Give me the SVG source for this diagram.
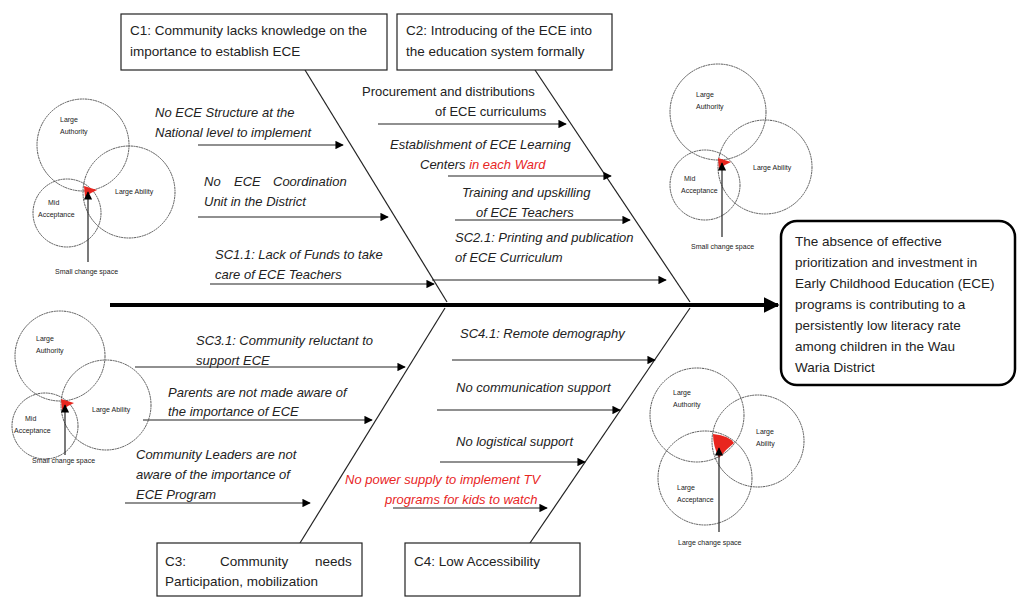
<svg xmlns="http://www.w3.org/2000/svg" width="1024" height="604" viewBox="0 0 1024 604">
<defs>
<marker id="ah" viewBox="0 0 10 10" refX="9" refY="5" markerWidth="7" markerHeight="7" orient="auto"><path d="M0,0 L10,5 L0,10 Z" fill="#000"/></marker>
<marker id="big" viewBox="0 0 10 10" refX="9" refY="5" markerWidth="4" markerHeight="4" orient="auto"><path d="M0,0 L10,5 L0,10 Z" fill="#000"/></marker>
</defs>
<style>
text{font-family:"Liberation Sans",Arial,sans-serif;fill:#222}
.i{font-style:italic;font-size:13px}
.n{font-size:13px}
.b{font-size:13.5px}
.s{font-size:7px}
.r{fill:#e8261f}
.c{fill:none;stroke:#555;stroke-width:1;stroke-dasharray:2 0.6}
.box{fill:#fff;stroke:#222;stroke-width:1.2}
.ln{stroke:#222;stroke-width:1.2;fill:none}
.ar{stroke:#222;stroke-width:1.2;fill:none;marker-end:url(#ah)}
</style>
<rect width="1024" height="604" fill="#fff"/>
<g id="connectors">
<line x1="110" y1="305" x2="778" y2="305" stroke="#000" stroke-width="4" marker-end="url(#big)"/>
<line class="ln" x1="305" y1="70" x2="447" y2="302"/>
<line class="ln" x1="535" y1="70" x2="690" y2="302"/>
<line class="ln" x1="300" y1="543" x2="445" y2="308"/>
<line class="ln" x1="530" y1="543" x2="690" y2="308"/>
<line class="ar" x1="198" y1="145" x2="343" y2="145"/>
<line class="ar" x1="198" y1="217" x2="388" y2="217"/>
<line class="ar" x1="210" y1="284" x2="434" y2="284"/>
<line class="ar" x1="378" y1="124" x2="566" y2="124"/>
<line class="ar" x1="448" y1="176" x2="611" y2="176"/>
<line class="ar" x1="455" y1="220" x2="630" y2="220"/>
<line class="ar" x1="432" y1="280" x2="666" y2="280"/>
<line class="ar" x1="135" y1="367" x2="405" y2="367"/>
<line class="ar" x1="143" y1="420" x2="372" y2="420"/>
<line class="ar" x1="125" y1="503" x2="310" y2="503"/>
<line class="ar" x1="452" y1="360" x2="655" y2="360"/>
<line class="ar" x1="437" y1="410" x2="620" y2="410"/>
<line class="ar" x1="440" y1="462" x2="585" y2="462"/>
<line class="ar" x1="393" y1="508" x2="547" y2="508"/>
</g>
<g id="c1"><rect class="box" x="121" y="14" width="266" height="56"/>
<text class="b" x="130" y="35">C1: Community lacks knowledge on the</text>
<text class="b" x="130" y="56">importance  to establish ECE</text></g>
<g id="c2"><rect class="box" x="397" y="14" width="215" height="56"/>
<text class="b" x="406" y="35">C2: Introducing of the ECE into</text>
<text class="b" x="406" y="56">the education system formally</text></g>
<g id="c3"><rect class="box" x="157" y="543" width="205" height="53"/>
<text class="b" y="566"><tspan x="165">C3:</tspan> <tspan x="220">Community</tspan> <tspan x="315">needs</tspan></text>
<text class="b" x="165" y="586">Participation, mobilization</text></g>
<g id="c4"><rect class="box" x="405" y="543" width="175" height="53"/>
<text class="b" x="414" y="566">C4: Low Accessibility</text></g>
<g id="result"><rect x="781" y="221" width="234" height="164" rx="16" fill="#fff" stroke="#000" stroke-width="2.5"/>
<text class="b" x="795" y="246">The absence of effective</text>
<text class="b" x="795" y="267">prioritization and investment in</text>
<text class="b" x="795" y="288">Early Childhood Education (ECE)</text>
<text class="b" x="795" y="309">programs is contributing to a</text>
<text class="b" x="795" y="330">persistently low literacy rate</text>
<text class="b" x="795" y="351">among children in the Wau</text>
<text class="b" x="795" y="372">Waria District</text></g>
<g id="labels">
<text class="i" x="155" y="117">No ECE Structure at the</text>
<text class="i" x="155" y="137">National level to implement</text>
<text class="i" y="186"><tspan x="204">No</tspan> <tspan x="234">ECE</tspan> <tspan x="273">Coordination</tspan></text>
<text class="i" x="204" y="206">Unit in the District</text>
<text class="i" x="215" y="259">SC1.1: Lack of Funds to take</text>
<text class="i" x="215" y="279">care of ECE Teachers</text>
<text class="n" x="362" y="96">Procurement and distributions</text>
<text class="n" x="435" y="116">of ECE curriculums</text>
<text class="i" x="390" y="149">Establishment of ECE Learning</text>
<text class="i" x="420" y="169">Centers <tspan class="r">in each Ward</tspan></text>
<text class="i" x="462" y="197">Training and upskilling</text>
<text class="i" x="476" y="217">of ECE Teachers</text>
<text class="i" x="455" y="242">SC2.1: Printing and publication</text>
<text class="i" x="455" y="262">of ECE Curriculum</text>
<text class="i" x="196" y="345">SC3.1: Community reluctant to</text>
<text class="i" x="196" y="365">support ECE</text>
<text class="i" x="168" y="397">Parents are not made aware of</text>
<text class="i" x="168" y="416">the importance of ECE</text>
<text class="i" x="136" y="459">Community Leaders are not</text>
<text class="i" x="136" y="479">aware of the importance of</text>
<text class="i" x="136" y="499">ECE Program</text>
<text class="i" x="460" y="338">SC4.1: Remote demography</text>
<text class="i" x="456" y="392">No communication support</text>
<text class="i" x="456" y="446">No logistical support</text>
<text class="i r" x="345" y="484">No power supply to implement TV</text>
<text class="i r" x="385" y="504">programs for kids to watch</text>
</g>
<g id="venn1">
<circle class="c" cx="83" cy="145" r="46"/><circle class="c" cx="129" cy="192" r="46"/><circle class="c" cx="67" cy="213" r="34"/>
<path d="M84,186 L97,190 Q90,193 85,197 Z" class="r"/>
<line class="ar" x1="88" y1="262" x2="88" y2="192"/>
<text class="s" x="60" y="122">Large</text><text class="s" x="60" y="134">Authority</text>
<text class="s" x="115" y="194">Large Ability</text>
<text class="s" x="48" y="205">Mid</text><text class="s" x="38" y="217">Acceptance</text>
<text class="s" x="55" y="274">Small change space</text>
</g>
<g id="venn2">
<circle class="c" cx="60" cy="356" r="45"/><circle class="c" cx="106" cy="405" r="45"/><circle class="c" cx="45" cy="426" r="33"/>
<path d="M61,399 L74,403 Q67,406 62,410 Z" class="r"/>
<line class="ar" x1="65" y1="455" x2="65" y2="405"/>
<text class="s" x="36" y="341">Large</text><text class="s" x="36" y="353">Authority</text>
<text class="s" x="92" y="412">Large Ability</text>
<text class="s" x="25" y="421">Mid</text><text class="s" x="14" y="433">Acceptance</text>
<text class="s" x="32" y="463">Small change space</text>
</g>
<g id="venn3">
<circle class="c" cx="718" cy="112" r="48"/><circle class="c" cx="765" cy="167" r="47"/><circle class="c" cx="705" cy="185" r="35"/>
<path d="M718,158 L731,162 Q724,165 719,169 Z" class="r"/>
<line class="ar" x1="722" y1="237" x2="722" y2="163"/>
<text class="s" x="696" y="97">Large</text><text class="s" x="696" y="109">Authority</text>
<text class="s" x="753" y="170">Large Ability</text>
<text class="s" x="684" y="181">Mid</text><text class="s" x="681" y="193">Acceptance</text>
<text class="s" x="691" y="249">Small change space</text>
</g>
<g id="venn4">
<circle class="c" cx="697" cy="415" r="47"/><circle class="c" cx="758" cy="441" r="46"/><circle class="c" cx="705" cy="478" r="47"/>
<path d="M713,434 Q730,436 734,443 Q725,450 719,458 Q713,446 713,434 Z" class="r"/>
<line class="ar" x1="719" y1="532" x2="719" y2="448"/>
<text class="s" x="673" y="395">Large</text><text class="s" x="673" y="407">Authority</text>
<text class="s" x="756" y="434">Large</text><text class="s" x="756" y="446">Ability</text>
<text class="s" x="677" y="490">Large</text><text class="s" x="677" y="502">Acceptance</text>
<text class="s" x="678" y="545">Large change space</text>
</g>
</svg>
